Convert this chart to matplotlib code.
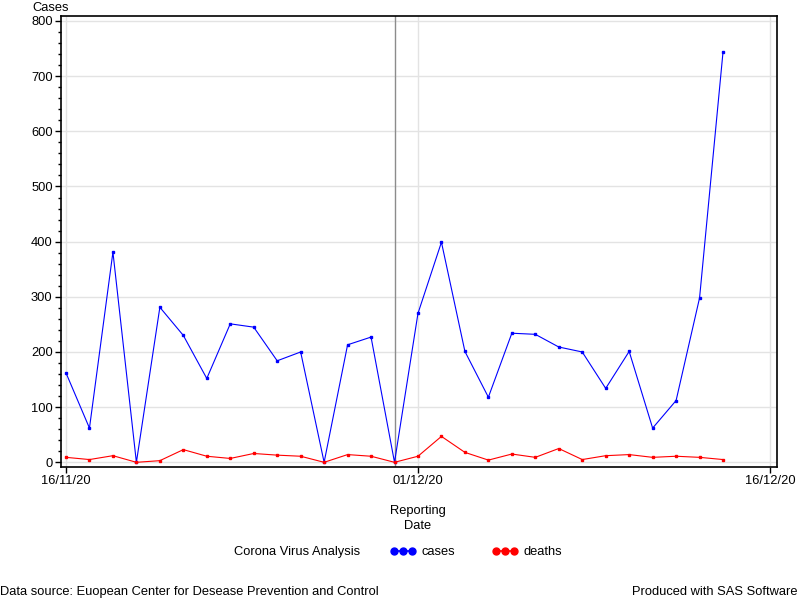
import matplotlib
matplotlib.use("Agg")
import matplotlib.pyplot as plt
import matplotlib.dates as mdates
from matplotlib.lines import Line2D
from matplotlib.ticker import MultipleLocator
import pandas as pd

plt.rcParams["font.family"] = ["Liberation Sans", "DejaVu Sans"]

dates = ["2020-11-16", "2020-11-17", "2020-11-18", "2020-11-19", "2020-11-20",
         "2020-11-21", "2020-11-22", "2020-11-23", "2020-11-24", "2020-11-25",
         "2020-11-26", "2020-11-27", "2020-11-28", "2020-11-29", "2020-11-30",
         "2020-12-01", "2020-12-02", "2020-12-03", "2020-12-04", "2020-12-05",
         "2020-12-06", "2020-12-07", "2020-12-08", "2020-12-09", "2020-12-10",
         "2020-12-11", "2020-12-12", "2020-12-13", "2020-12-14"]
cases = [162, 62, 381, 0, 281, 230, 152, 251, 245, 184, 200, 0, 213, 227, 0,
         270, 399, 201, 118, 234, 232, 209, 200, 134, 201, 62, 112, 298, 744]
deaths = [9, 5, 12, 0, 3, 23, 11, 7, 16, 13, 11, 0, 14, 11, 0,
          11, 47, 18, 4, 15, 9, 25, 5, 12, 14, 9, 11, 9, 5]
xticks = ["2020-11-16", "2020-12-01", "2020-12-16"]
refline = "2020-11-30"

x = pd.to_datetime(dates)
xt = pd.to_datetime(xticks)
FS = 9.3

fig = plt.figure(figsize=(8, 6), dpi=100)
ax = fig.add_axes([61 / 800, 133 / 600, 716 / 800, 451 / 600])

ax.plot(x, cases, "-", color="blue", lw=0.8, marker="s", ms=1.8, zorder=3)
ax.plot(x, deaths, "-", color="red", lw=0.8, marker="s", ms=1.8, zorder=3)
ax.axvline(pd.Timestamp(refline), color="#8c8c8c", lw=1, zorder=2)

x0 = mdates.date2num(xt[0])
ax.set_xlim(x0 - 0.213, x0 + 30.3)
ax.set_ylim(-8.5, 809)

ax.set_xticks(xt)
ax.xaxis.set_major_formatter(mdates.DateFormatter("%d/%m/%y"))
ax.yaxis.set_major_locator(MultipleLocator(100))
ax.yaxis.set_minor_locator(MultipleLocator(20))
ax.grid(True, which="major", color="#e3e3e3", lw=1, zorder=0)
ax.set_axisbelow(True)
ax.tick_params(axis="both", which="major", labelsize=FS, length=4, width=1,
               color="black", pad=2)
ax.tick_params(axis="y", which="minor", length=2.5, width=1)
for s in ax.spines.values():
    s.set_linewidth(1.2)

fig.text(32 / 800, 1 - 8 / 600, "Cases", fontsize=FS, va="center", ha="left")
fig.text(418 / 800, 1 - 511 / 600, "Reporting", fontsize=FS, ha="center", va="center")
fig.text(418 / 800, 1 - 526 / 600, "Date", fontsize=FS, ha="center", va="center")

fig.text(297 / 800, 1 - 552 / 600, "Corona Virus Analysis", fontsize=FS, ha="center", va="center")
handles = [Line2D([], [], color="blue", marker="o", ms=5, lw=1.2),
           Line2D([], [], color="red", marker="o", ms=5, lw=1.2)]
fig.legend(handles, ["cases", "deaths"], loc="center left", ncol=2, frameon=False,
           numpoints=3, handlelength=2.0, handletextpad=0.5, columnspacing=2.8,
           fontsize=FS, bbox_to_anchor=(378 / 800, 1 - 552 / 600))

fig.text(0.0, 1 - 592 / 600, "Data source: Euopean Center for Desease Prevention and Control",
         fontsize=FS, ha="left", va="center")
fig.text(797 / 800, 1 - 592 / 600, "Produced with SAS Software", fontsize=FS, ha="right", va="center")

fig.savefig("out.png", dpi=100)
